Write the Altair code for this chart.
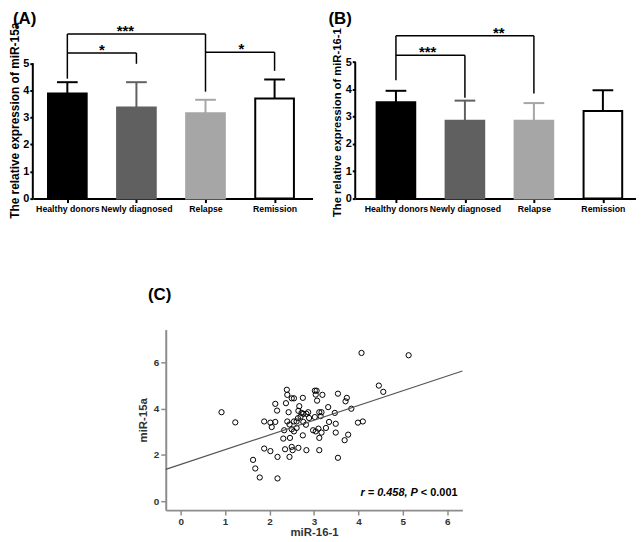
import json
import altair as alt
import pandas as pd

FONT = "Liberation Sans, Arial, sans-serif"

groups = ["Healthy donors", "Newly diagnosed", "Relapse", "Remission"]
positions = [0, 1, 2, 3]
bar_fill = ["#000000", "#606060", "#a6a6a6", "#ffffff"]
bar_line = ["#000000", "#606060", "#a6a6a6", "#000000"]

# Panel A: miR-15a
a_mean = [3.88, 3.37, 3.15, 3.70]
a_upper = [4.30, 4.30, 3.65, 4.40]
a_br_x = [0, 0, 2, 0, 1, 2, 3]
a_br_x2 = [2, 0, 2, 1, 1, 3, 3]
a_br_y = [6.08, 6.08, 6.08, 5.38, 5.38, 5.41, 5.41]
a_br_y2 = [6.08, 4.43, 3.95, 5.38, 4.98, 5.41, 4.72]
a_star_x = [0.84, 0.5, 2.52]
a_star_y = [6.08, 5.38, 5.41]
a_star_text = ["***", "*", "*"]

# Panel B: miR-16-1
b_mean = [3.53, 2.85, 2.85, 3.21]
b_upper = [3.95, 3.59, 3.50, 3.97]
b_br_x = [0, 0, 2, 0, 1]
b_br_x2 = [2, 0, 2, 1, 1]
b_br_y = [5.97, 5.97, 5.97, 5.25, 5.25]
b_br_y2 = [5.97, 4.34, 3.85, 5.25, 3.70]
b_star_x = [1.49, 0.46]
b_star_y = [5.97, 5.25]
b_star_text = ["**", "***"]

# Panel C: scatter
mir16 = [0.92, 1.23, 4.07, 5.13, 4.46, 4.56, 1.63, 1.68, 1.78, 2.18,
         2.39, 2.40, 2.50, 2.55, 3.02, 3.06, 3.04, 3.19, 3.54, 3.74,
         3.71, 2.75, 3.07, 2.13, 2.37, 2.17, 2.43, 2.67, 2.65, 2.72,
         2.76, 2.83, 2.87, 2.89, 3.02, 3.12, 3.17, 3.15, 3.32, 3.47,
         3.84, 3.99, 4.10, 1.88, 2.02, 2.13, 2.05, 2.40, 2.45, 2.55,
         2.61, 2.33, 2.50, 2.55, 2.61, 2.76, 2.82, 2.98, 3.04, 3.10,
         3.17, 3.27, 3.34, 3.49, 3.49, 3.77, 3.69, 2.31, 2.46, 2.75,
         3.12, 1.88, 2.02, 2.18, 2.35, 2.50, 2.52, 2.65, 2.45, 2.83,
         3.12, 3.54, 2.70, 2.64]
mir15 = [3.84, 3.40, 6.40, 6.30, 4.99, 4.72, 1.78, 1.41, 1.02, 0.98,
         4.81, 4.59, 4.44, 4.44, 4.77, 4.77, 4.60, 4.59, 4.64, 4.46,
         4.31, 4.46, 4.34, 4.20, 4.23, 3.91, 3.84, 4.10, 3.90, 3.81,
         3.77, 3.77, 3.84, 3.59, 3.63, 3.84, 3.84, 3.67, 4.06, 3.81,
         3.99, 3.39, 3.44, 3.44, 3.39, 3.42, 3.20, 3.44, 3.31, 3.44,
         3.44, 3.06, 3.10, 3.01, 3.16, 3.42, 3.30, 3.06, 3.01, 3.13,
         2.96, 3.16, 3.42, 3.34, 2.96, 2.87, 2.63, 2.70, 2.73, 2.84,
         2.73, 2.27, 2.16, 1.91, 2.24, 2.34, 2.20, 2.30, 1.91, 2.20,
         2.20, 1.87, 3.65, 3.58]
fit_x = [-0.335, 6.34]
fit_y = [1.37, 5.62]
stat_left = "r = 0.458, P"
stat_right = "< 0.001"
stat_x = [5.36]
stat_y = [0.34]

label_expr = json.dumps(groups) + "[datum.value]"


def panel_label(label, dx, dy):
    return alt.Chart(pd.DataFrame({"t": [label]})).mark_text(
        font=FONT, fontSize=17, fontWeight="bold", align="left", baseline="alphabetic",
        color="black").encode(x=alt.value(dx), y=alt.value(dy), text="t:N")


def bar_panel(mean, upper, bx, bx2, by, by2, sx, sy, st, ytitle, xdom, ydom, width, height,
              label, tdx, tsize, tpad, ty):
    df = pd.DataFrame({"pos": positions, "group": groups, "mean": mean, "upper": upper,
                       "fill": bar_fill, "line": bar_line})
    df["left"] = df["pos"] - 0.28
    df["right"] = df["pos"] + 0.28
    df["cl"] = df["pos"] - 0.15
    df["cr"] = df["pos"] + 0.15
    xs = alt.Scale(domain=xdom, nice=False, zero=False)
    ys = alt.Scale(domain=ydom, nice=False, zero=False)
    xaxis = alt.Axis(values=positions, labelExpr=label_expr, title=None, labelOverlap=False,
                     labelFlush=False, labelFont=FONT, labelFontSize=8.8, labelFontWeight="bold",
                     labelColor="black", labelPadding=2, tickSize=4, tickWidth=2, tickColor="black",
                     domainColor="black", domainWidth=2)
    yaxis = alt.Axis(values=[0, 1, 2, 3, 4, 5], title=ytitle, domain=False,
                     tickSize=3, tickWidth=2,
                     tickColor="black", labelFont=FONT, labelFontSize=11, labelFontWeight="bold",
                     labelColor="black", labelPadding=1, labelOverlap=False, labelFlush=False,
                     titleFont=FONT, titleFontSize=tsize, titleY=ty,
                     titleFontWeight="bold", titleColor="black", titlePadding=tpad)

    def X(f):
        return alt.X(f, scale=xs, axis=xaxis)

    def Y(f):
        return alt.Y(f, scale=ys, axis=yaxis)

    base = alt.Chart(df)
    bars = base.mark_rect(strokeWidth=2).encode(
        x=X("left:Q"), x2="right:Q", y=Y("mean:Q"), y2=alt.datum(0),
        fill=alt.Fill("fill:N", scale=None), stroke=alt.Stroke("line:N", scale=None))
    err = base.mark_rule(strokeWidth=2).encode(
        x=X("pos:Q"), y=Y("mean:Q"), y2="upper:Q", color=alt.Color("line:N", scale=None))
    caps = base.mark_rule(strokeWidth=2).encode(
        x=X("cl:Q"), x2="cr:Q", y=Y("upper:Q"), color=alt.Color("line:N", scale=None))
    yline = alt.Chart(pd.DataFrame({"lo": [0], "hi": [5]})).mark_rule(
        strokeWidth=2, color="black").encode(x=alt.value(0), y=Y("lo:Q"), y2="hi:Q")
    br = alt.Chart(pd.DataFrame({"x": bx, "x2": bx2, "y": by, "y2": by2})).mark_rule(
        strokeWidth=1.5, color="black").encode(x=X("x:Q"), x2="x2:Q", y=Y("y:Q"), y2="y2:Q")
    stars = alt.Chart(pd.DataFrame({"x": sx, "y": sy, "t": st})).mark_text(
        font=FONT, fontSize=15, fontWeight="bold", baseline="alphabetic", dy=2, color="black").encode(
        x=X("x:Q"), y=Y("y:Q"), text="t:N")
    return alt.layer(bars, err, caps, yline, br, stars, panel_label(label, tdx, -6)).properties(
        width=width, height=height)


A = bar_panel(a_mean, a_upper, a_br_x, a_br_x2, a_br_y, a_br_y2, a_star_x, a_star_y, a_star_text,
              "The relative expression of miR-15a", [-0.5, 3.55], [0, 6.23], 282, 170, "(A)", -20,
              12, 1, 91)
B = bar_panel(b_mean, b_upper, b_br_x, b_br_x2, b_br_y, b_br_y2, b_star_x, b_star_y, b_star_text,
              "The relative expression of miR-16-1", [-0.59, 3.48], [0, 6.18], 283, 170, "(B)", -27,
              11.3, 3, 93)

cx = alt.Scale(domain=[-0.335, 6.34], nice=False, zero=False)
cy = alt.Scale(domain=[-0.39, 7.41], nice=False, zero=False)
axis_c = dict(domainColor="#8c8c8c", domainWidth=2, tickColor="#8c8c8c", tickWidth=1.5, tickSize=5,
              labelFont=FONT, labelFontSize=10, labelFontWeight="bold", labelColor="#333333",
              labelOverlap=False, labelFlush=False,
              titleFont=FONT, titleFontSize=11.5, titleFontWeight="bold",
              titleColor="#333333")
cxaxis = alt.Axis(values=[0, 1, 2, 3, 4, 5, 6], title="miR-16-1", titlePadding=1, labelPadding=1,
                  **axis_c)
cyaxis = alt.Axis(values=[0, 2, 4, 6], title="miR-15a", titlePadding=5, labelPadding=2, **axis_c)


def CX(f):
    return alt.X(f, scale=cx, axis=cxaxis)


def CY(f):
    return alt.Y(f, scale=cy, axis=cyaxis)


scatter = alt.Chart(pd.DataFrame({"x": mir16, "y": mir15})).mark_point(
    shape="circle", filled=False, color="black", strokeWidth=1, size=28, opacity=1).encode(
    x=CX("x:Q"), y=CY("y:Q"))
fit = alt.Chart(pd.DataFrame({"x": fit_x, "y": fit_y})).mark_line(
    color="#555555", strokeWidth=1.2).encode(x=CX("x:Q"), y=CY("y:Q"))
stat_df = pd.DataFrame({"x": stat_x, "y": stat_y, "a": [stat_left], "b": [stat_right]})
stat1 = alt.Chart(stat_df).mark_text(font=FONT, fontSize=11, fontWeight="bold", fontStyle="italic",
                                     align="right", baseline="middle", dx=-1, color="black").encode(
    x=CX("x:Q"), y=CY("y:Q"), text="a:N")
stat2 = alt.Chart(stat_df).mark_text(font=FONT, fontSize=11, fontWeight="bold",
                                     align="left", baseline="middle", dx=2, color="black").encode(
    x=CX("x:Q"), y=CY("y:Q"), text="b:N")
C = alt.layer(scatter, fit, stat1, stat2, panel_label("(C)", -18, -30)).properties(
    width=299, height=182)

spacer = alt.Chart(pd.DataFrame({"s": [0]})).mark_point(opacity=0).encode(
    x=alt.value(0), y=alt.value(0)).properties(width=105, height=10)

chart = alt.vconcat(
    alt.hconcat(A, B, spacing=16),
    alt.hconcat(spacer, C, spacing=0),
    spacing=67,
).properties(padding=0).configure_view(stroke=None).configure_axis(grid=False, labelOverlap=False)

chart.save("out.html", embed_options={"renderer": "svg", "actions": False})
